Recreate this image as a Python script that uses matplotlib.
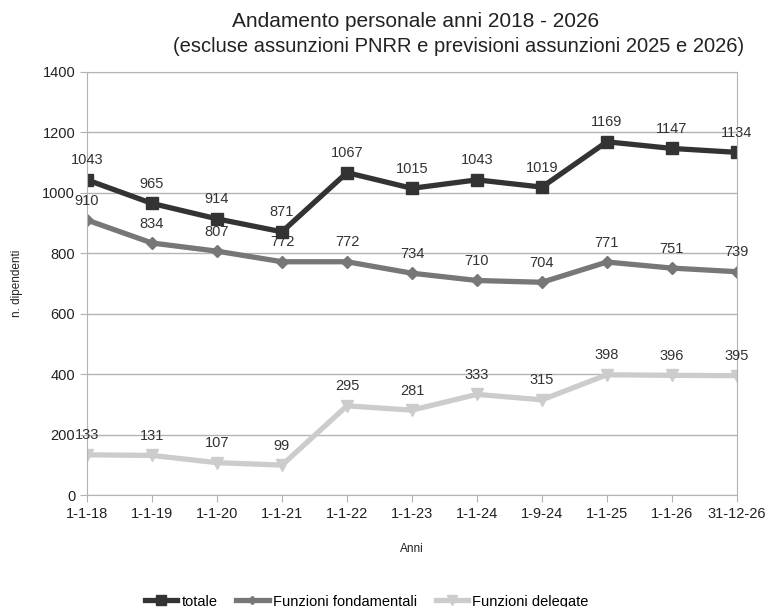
import matplotlib
matplotlib.use("Agg")
import matplotlib.pyplot as plt

plt.rcParams['font.family'] = ['Liberation Sans', 'DejaVu Sans']

anni = ['1-1-18', '1-1-19', '1-1-20', '1-1-21', '1-1-22', '1-1-23',
        '1-1-24', '1-9-24', '1-1-25', '1-1-26', '31-12-26']
totale = [1043, 965, 914, 871, 1067, 1015, 1043, 1019, 1169, 1147, 1134]
fondamentali = [910, 834, 807, 772, 772, 734, 710, 704, 771, 751, 739]
delegate = [133, 131, 107, 99, 295, 281, 333, 315, 398, 396, 395]

fig = plt.figure(figsize=(7.66, 6.07), dpi=100)
ax = fig.add_axes([0.1136, 0.1845, 0.8484, 0.6969])

x = list(range(len(anni)))
series = [
    (totale, 'totale', '#333333', 's', 9),
    (fondamentali, 'Funzioni fondamentali', '#777777', 'D', 6),
    (delegate, 'Funzioni delegate', '#cccccc', 'v', 9),
]
for vals, name, col, mk, ms in series:
    ax.plot(x, vals, color=col, lw=3.8, marker=mk, ms=ms, label=name)
    for xi, v in zip(x, vals):
        ax.annotate(str(v), (xi, v), xytext=(0, 9), textcoords='offset points',
                    ha='center', va='bottom', fontsize=10.5, color='#333333')

ax.set_xlim(0, len(anni) - 1)
ax.set_ylim(0, 1400)
ax.set_yticks(range(0, 1401, 200))
ax.set_xticks(x)
ax.set_xticklabels(anni)
ax.tick_params(labelsize=10.5, colors='#b3b3b3', labelcolor='#222222', length=5)
ax.grid(axis='y', color='#b3b3b3', lw=1)
ax.set_axisbelow(True)
for s in ax.spines.values():
    s.set_color('#b3b3b3')

ax.set_ylabel('n. dipendenti', fontsize=8.5, color='#222222', labelpad=14)
ax.set_xlabel('Anni', fontsize=8.5, color='#222222', labelpad=16)

fig.text(0.542, 0.964, 'Andamento personale anni 2018 - 2026', ha='center',
         va='center', fontsize=15, color='#222222')
fig.text(0.598, 0.923, '(escluse assunzioni PNRR e previsioni assunzioni 2025 e 2026)',
         ha='center', va='center', fontsize=14.5, color='#222222')

fig.legend(loc='center', bbox_to_anchor=(0.479, 0.009), ncol=3, frameon=False,
           fontsize=10.5, handlelength=2.2, handletextpad=0.3, columnspacing=1.3,
           markerscale=0.75)

fig.savefig('out.png', dpi=100)
